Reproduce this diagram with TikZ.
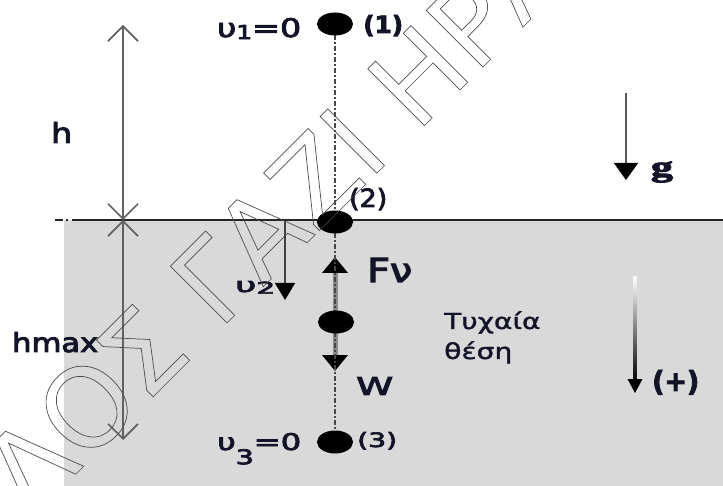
\documentclass[tikz,border=0pt]{standalone}
\usepackage{fontspec}
\setmainfont{DejaVu Sans}
\newfontfamily\serifb{Liberation Serif}
\usetikzlibrary{arrows.meta,shapes.geometric}
\definecolor{txt}{RGB}{20,20,40}
\definecolor{sea}{RGB}{217,217,217}
\newcommand{\heavy}[1]{\special{pdf:literal direct 2 Tr 0.32 w}#1\special{pdf:literal direct 0 Tr}}
\newcommand{\fitbox}[3]{\resizebox{#1pt}{#2pt}{\heavy{#3}}}
\begin{document}
\begin{tikzpicture}[x=1pt,y=-1pt,
  ball/.style={ellipse,fill=black,minimum width=36pt,minimum height=23pt,inner sep=0pt},
  lbl/.style={inner sep=0pt,text=txt,anchor=base west},
  hline/.style={line width=1.7pt,color=black!62},
  openhead/.style={{Straight Barb[length=15pt,width=30pt]}-{Straight Barb[length=15pt,width=30pt]}},
  dashdot/.style={line width=2.6pt,color=black!72,dash pattern=on 5pt off 2pt on 2pt off 2pt},
  force/.style={line width=5pt,color=black!45,-{Triangle[width=25pt,length=16pt,color=black]}},
  vec/.style={line width=1.5pt,color=black!65,-{Triangle[width=24pt,length=17pt,color=black]}}
]
\useasboundingbox (0,0) rectangle (723,486);
% water region
\fill[sea] (64,220) rectangle (723,486);
% surface line
\coordinate (hl0) at (55,220);
\coordinate (hl1) at (78,220);
\coordinate (hl2) at (723,220);
\draw[line width=1.3pt,color=black!85] (hl1) -- (hl2);
\draw[line width=1.3pt,color=black!85,dash pattern=on 8pt off 3pt on 2pt off 4pt] (hl0) -- (hl1);
% height arrows
\coordinate (htop) at (123,25);
\coordinate (hmid) at (123,220);
\coordinate (hbot) at (123,440);
\draw[hline,openhead] (htop) -- (hmid);
\draw[hline,openhead] (hmid) -- (hbot);
% ball positions
\coordinate (c1) at (335,24);
\coordinate (c2) at (335,222);
\coordinate (cm) at (336,322);
\coordinate (c3) at (335,442);
% forces on the middle ball
\coordinate (fvtip) at (335,257);
\coordinate (wtip) at (335,371);
\draw[force] (335,311) -- (fvtip);
\draw[force] (335,333) -- (wtip);
% dash-dot trajectory
\draw[dashdot] (c1) -- (c3);
% balls
\node[ball] (b1) at (c1) {};
\node[ball] (b2) at (c2) {};
\node[ball] (bm) at (cm) {};
\node[ball] (b3) at (c3) {};
% v2 arrow
\coordinate (u2s) at (285,221);
\coordinate (u2e) at (285,300);
\draw[line width=1.5pt,color=black!75,-{Triangle[width=20pt,length=17pt,color=black]}] (u2s) -- (u2e);
% g arrow
\coordinate (gs) at (626,93);
\coordinate (ge) at (626,180);
\draw[vec] (gs) -- (ge);
% (+) gradient arrow
\shade[top color=white,bottom color=black] (633.5,277) rectangle (636.5,381);
\fill[black] (627.5,379) -- (642.5,379) -- (635,393) -- cycle;
% labels
\node[lbl] (l1) at (217,37) {\fitbox{84}{19}{υ\raisebox{-0.8pt}{\fontsize{7.5}{8}\selectfont 1}=0}};
\node[lbl] (l3) at (217,450) {\fitbox{84}{17}{υ\raisebox{-6.2pt}{\fontsize{8.8}{9}\selectfont 3}=0}};
\node[lbl] (l2) at (235,292) {\fitbox{40}{11}{υ\raisebox{-0.8pt}{\fontsize{8}{9}\selectfont 2}}};
\node[lbl] (lfv) at (367,282) {\fitbox{45}{24}{Fν}};
\node[lbl] (lw) at (356,395) {\fitbox{37}{18}{W}};
\node[lbl] (lh) at (51,143) {\fitbox{21}{21}{h}};
\node[lbl] (lhmax) at (12,352) {\fitbox{86}{20}{hmax}};
\node[lbl] (p1) at (363,33) {\fitbox{40}{18}{\bfseries (1)}};
\node[lbl] (p2) at (349,207) {\fitbox{38}{19}{(2)}};
\node[lbl] (p3) at (357,447) {\fitbox{40}{15}{(3)}};
\node[lbl] (pp) at (652,391) {\fitbox{47}{21}{\bfseries (+)}};
\node[inner sep=0pt,text=txt] (lg) at (662,172) {\resizebox*{22pt}{21pt}{\heavy{\serifb\bfseries g}}};
\node[lbl] (t1) at (444,329) {\scalebox{1.28}[1]{\fontsize{22}{22}\selectfont\heavy{Τυχαία}}};
\node[lbl] (t2) at (444,359) {\scalebox{1.28}[1]{\fontsize{22}{22}\selectfont\heavy{θέση}}};
% watermark
\node[rotate=45,anchor=base west,inner sep=0pt,font=\fontsize{110}{110}\selectfont] (wm) at (31,519)
  {\special{pdf:literal direct 1 Tr 0.7 w 0.3 G}ΛΟΣ ΓΑΖΙ ΗΡΑ\special{pdf:literal direct 0 Tr}};
\end{tikzpicture}
\end{document}
